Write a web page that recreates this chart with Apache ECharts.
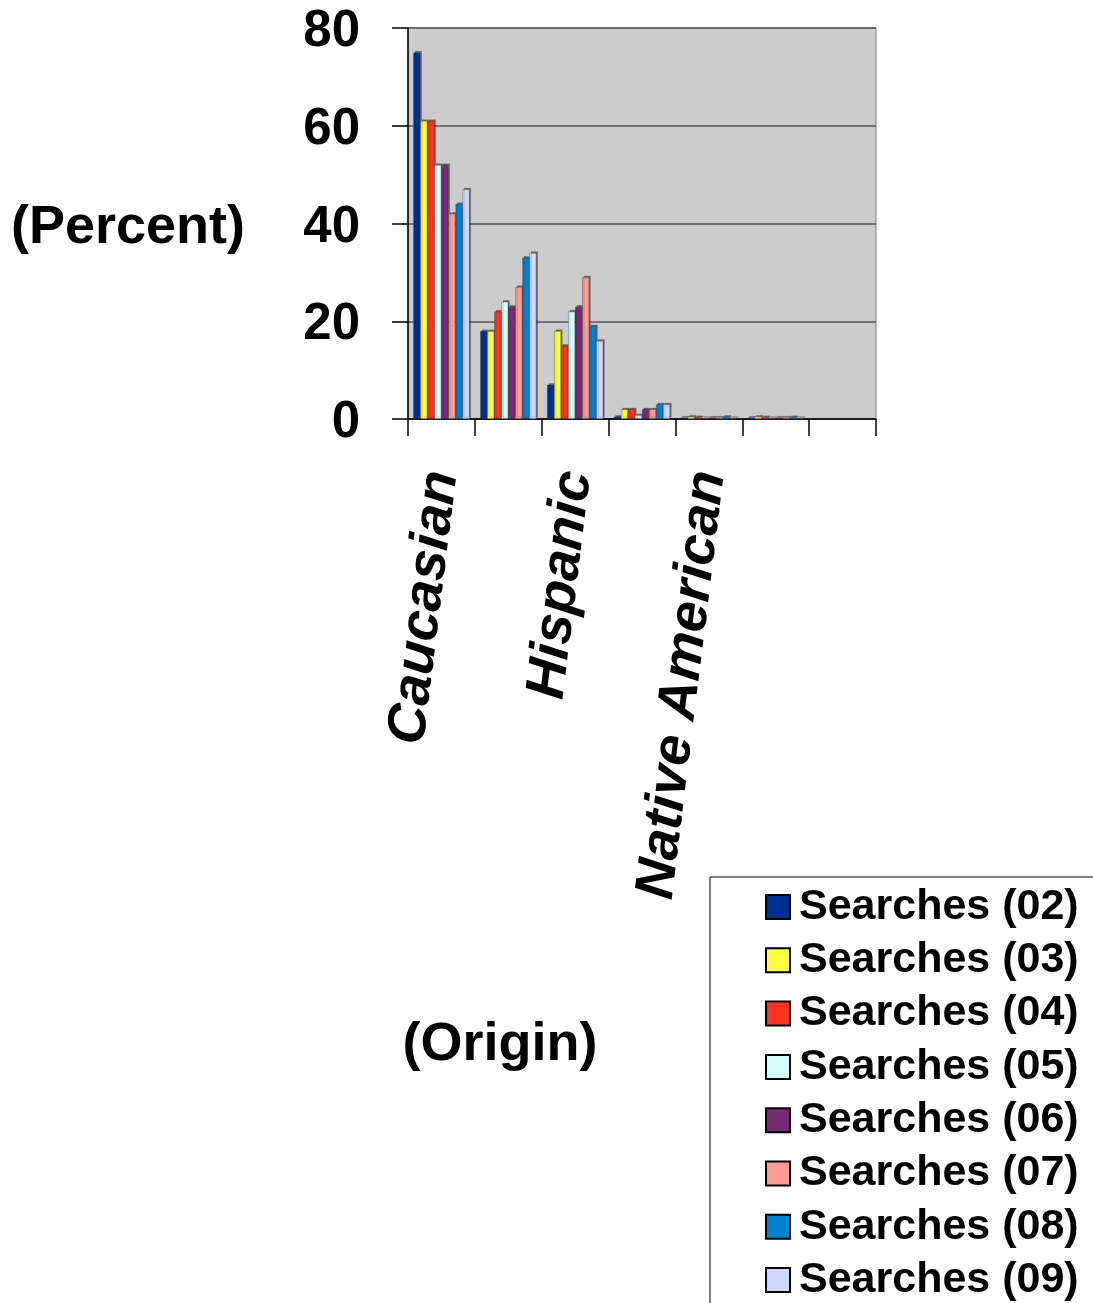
<!DOCTYPE html>
<html>
<head>
<meta charset="utf-8">
<script src="https://cdn.jsdelivr.net/npm/echarts@6/dist/echarts.min.js"></script>
<style>
  html, body { margin: 0; padding: 0; background: #ffffff; }
  #chart { width: 1093px; height: 1303px; }
</style>
</head>
<body>
<div id="chart"></div>
<script>
// Origin categories (only every other one is labelled on the axis)
const categories = ['Caucasian', 'African American', 'Hispanic', 'Asian', 'Native American', 'Other', ''];

// Yearly search shares, percent per origin ('-' = no bar)
const searches02 = [75, 18, 7, 0.5, 0.3, 0.3, '-'];
const searches03 = [61, 18, 18, 2, 0.5, 0.5, '-'];
const searches04 = [61, 22, 15, 2, 0.4, 0.4, '-'];
const searches05 = [52, 24, 22, 0.8, 0.2, 0.2, '-'];
const searches06 = [52, 23, 23, 2, 0.3, 0.3, '-'];
const searches07 = [42, 27, 29, 2, 0.3, 0.3, '-'];
const searches08 = [44, 33, 19, 3, 0.5, 0.4, '-'];
const searches09 = [47, 34, 16, 3, 0.2, 0.2, '-'];

const seriesNames = ['Searches (02)', 'Searches (03)', 'Searches (04)', 'Searches (05)',
                     'Searches (06)', 'Searches (07)', 'Searches (08)', 'Searches (09)'];
const seriesValues = [searches02, searches03, searches04, searches05,
                      searches06, searches07, searches08, searches09];
const seriesColors = ['#00308f', '#ffff40', '#ff3322', '#d4ffff',
                      '#7a2b75', '#ff9c94', '#0082d2', '#d0d8ff'];

const yTicks = { min: 0, max: 80, interval: 20 };

const FONT = 'Liberation Sans';

const chart = echarts.init(document.getElementById('chart'), null, { renderer: 'canvas' });

const series = seriesNames.map((name, i) => ({
  name: name,
  type: 'bar',
  data: seriesValues[i],
  barGap: '0%',
  barCategoryGap: '16%',
  itemStyle: {
    color: seriesColors[i],
    borderColor: 'rgba(40,40,40,0.55)',
    borderWidth: 0.6,
    shadowColor: 'rgba(30,30,30,0.55)',
    shadowOffsetX: 1.5,
    shadowOffsetY: -1.5,
    shadowBlur: 0
  }
}));

chart.setOption({
  animation: false,
  backgroundColor: '#ffffff',
  textStyle: { fontFamily: FONT },
  grid: {
    left: 408,
    top: 28,
    width: 468,
    height: 391,
    show: true,
    backgroundColor: '#cccccc',
    borderColor: '#7a7a7a',
    borderWidth: 1
  },
  legend: {
    orient: 'vertical',
    left: 710,
    top: 877,
    height: 440,
    padding: [8, 40, 30, 55],
    itemGap: 9.3,
    itemWidth: 24,
    itemHeight: 24,
    icon: 'rect',
    borderColor: '#000000',
    borderWidth: 1,
    data: seriesNames.map((n, i) => ({
      name: n,
      itemStyle: { color: seriesColors[i], borderColor: '#000000', borderWidth: 2 }
    })),
    textStyle: {
      fontFamily: FONT,
      fontWeight: 'bold',
      fontSize: 43,
      lineHeight: 44,
      color: '#000000',
      padding: [0, 0, 0, 4]
    }
  },
  xAxis: {
    type: 'category',
    data: categories,
    name: '(Origin)',
    nameLocation: 'middle',
    nameGap: 599,
    nameTextStyle: {
      fontFamily: FONT,
      fontWeight: 'bold',
      fontSize: 54,
      color: '#000000',
      padding: [0, 284, 0, 0]
    },
    axisLine: { show: true, lineStyle: { color: '#000000', width: 1.5 } },
    axisTick: { show: true, interval: 0, length: 17, lineStyle: { color: '#000000', width: 1.5 } },
    axisLabel: {
      interval: 1,
      rotate: 83,
      margin: 52,
      fontFamily: FONT,
      fontWeight: 'bold',
      fontStyle: 'italic',
      fontSize: 55,
      color: '#000000'
    },
    splitLine: { show: false }
  },
  yAxis: {
    type: 'value',
    min: yTicks.min,
    max: yTicks.max,
    interval: yTicks.interval,
    name: '(Percent)',
    nameLocation: 'middle',
    nameRotate: 0,
    nameGap: 163,
    nameTextStyle: {
      fontFamily: FONT,
      fontWeight: 'bold',
      fontSize: 54,
      color: '#000000',
      verticalAlign: 'top',
      lineHeight: 10
    },
    axisLine: { show: true, lineStyle: { color: '#000000', width: 1.5 } },
    axisTick: { show: true, length: 16, lineStyle: { color: '#000000', width: 1.5 } },
    axisLabel: {
      margin: 48,
      fontFamily: FONT,
      fontWeight: 'bold',
      fontSize: 51,
      color: '#000000',
      verticalAlign: 'top',
      lineHeight: 8
    },
    splitLine: { show: true, lineStyle: { color: '#555555', width: 1.5 } }
  },
  series: series
});
</script>
</body>
</html>
